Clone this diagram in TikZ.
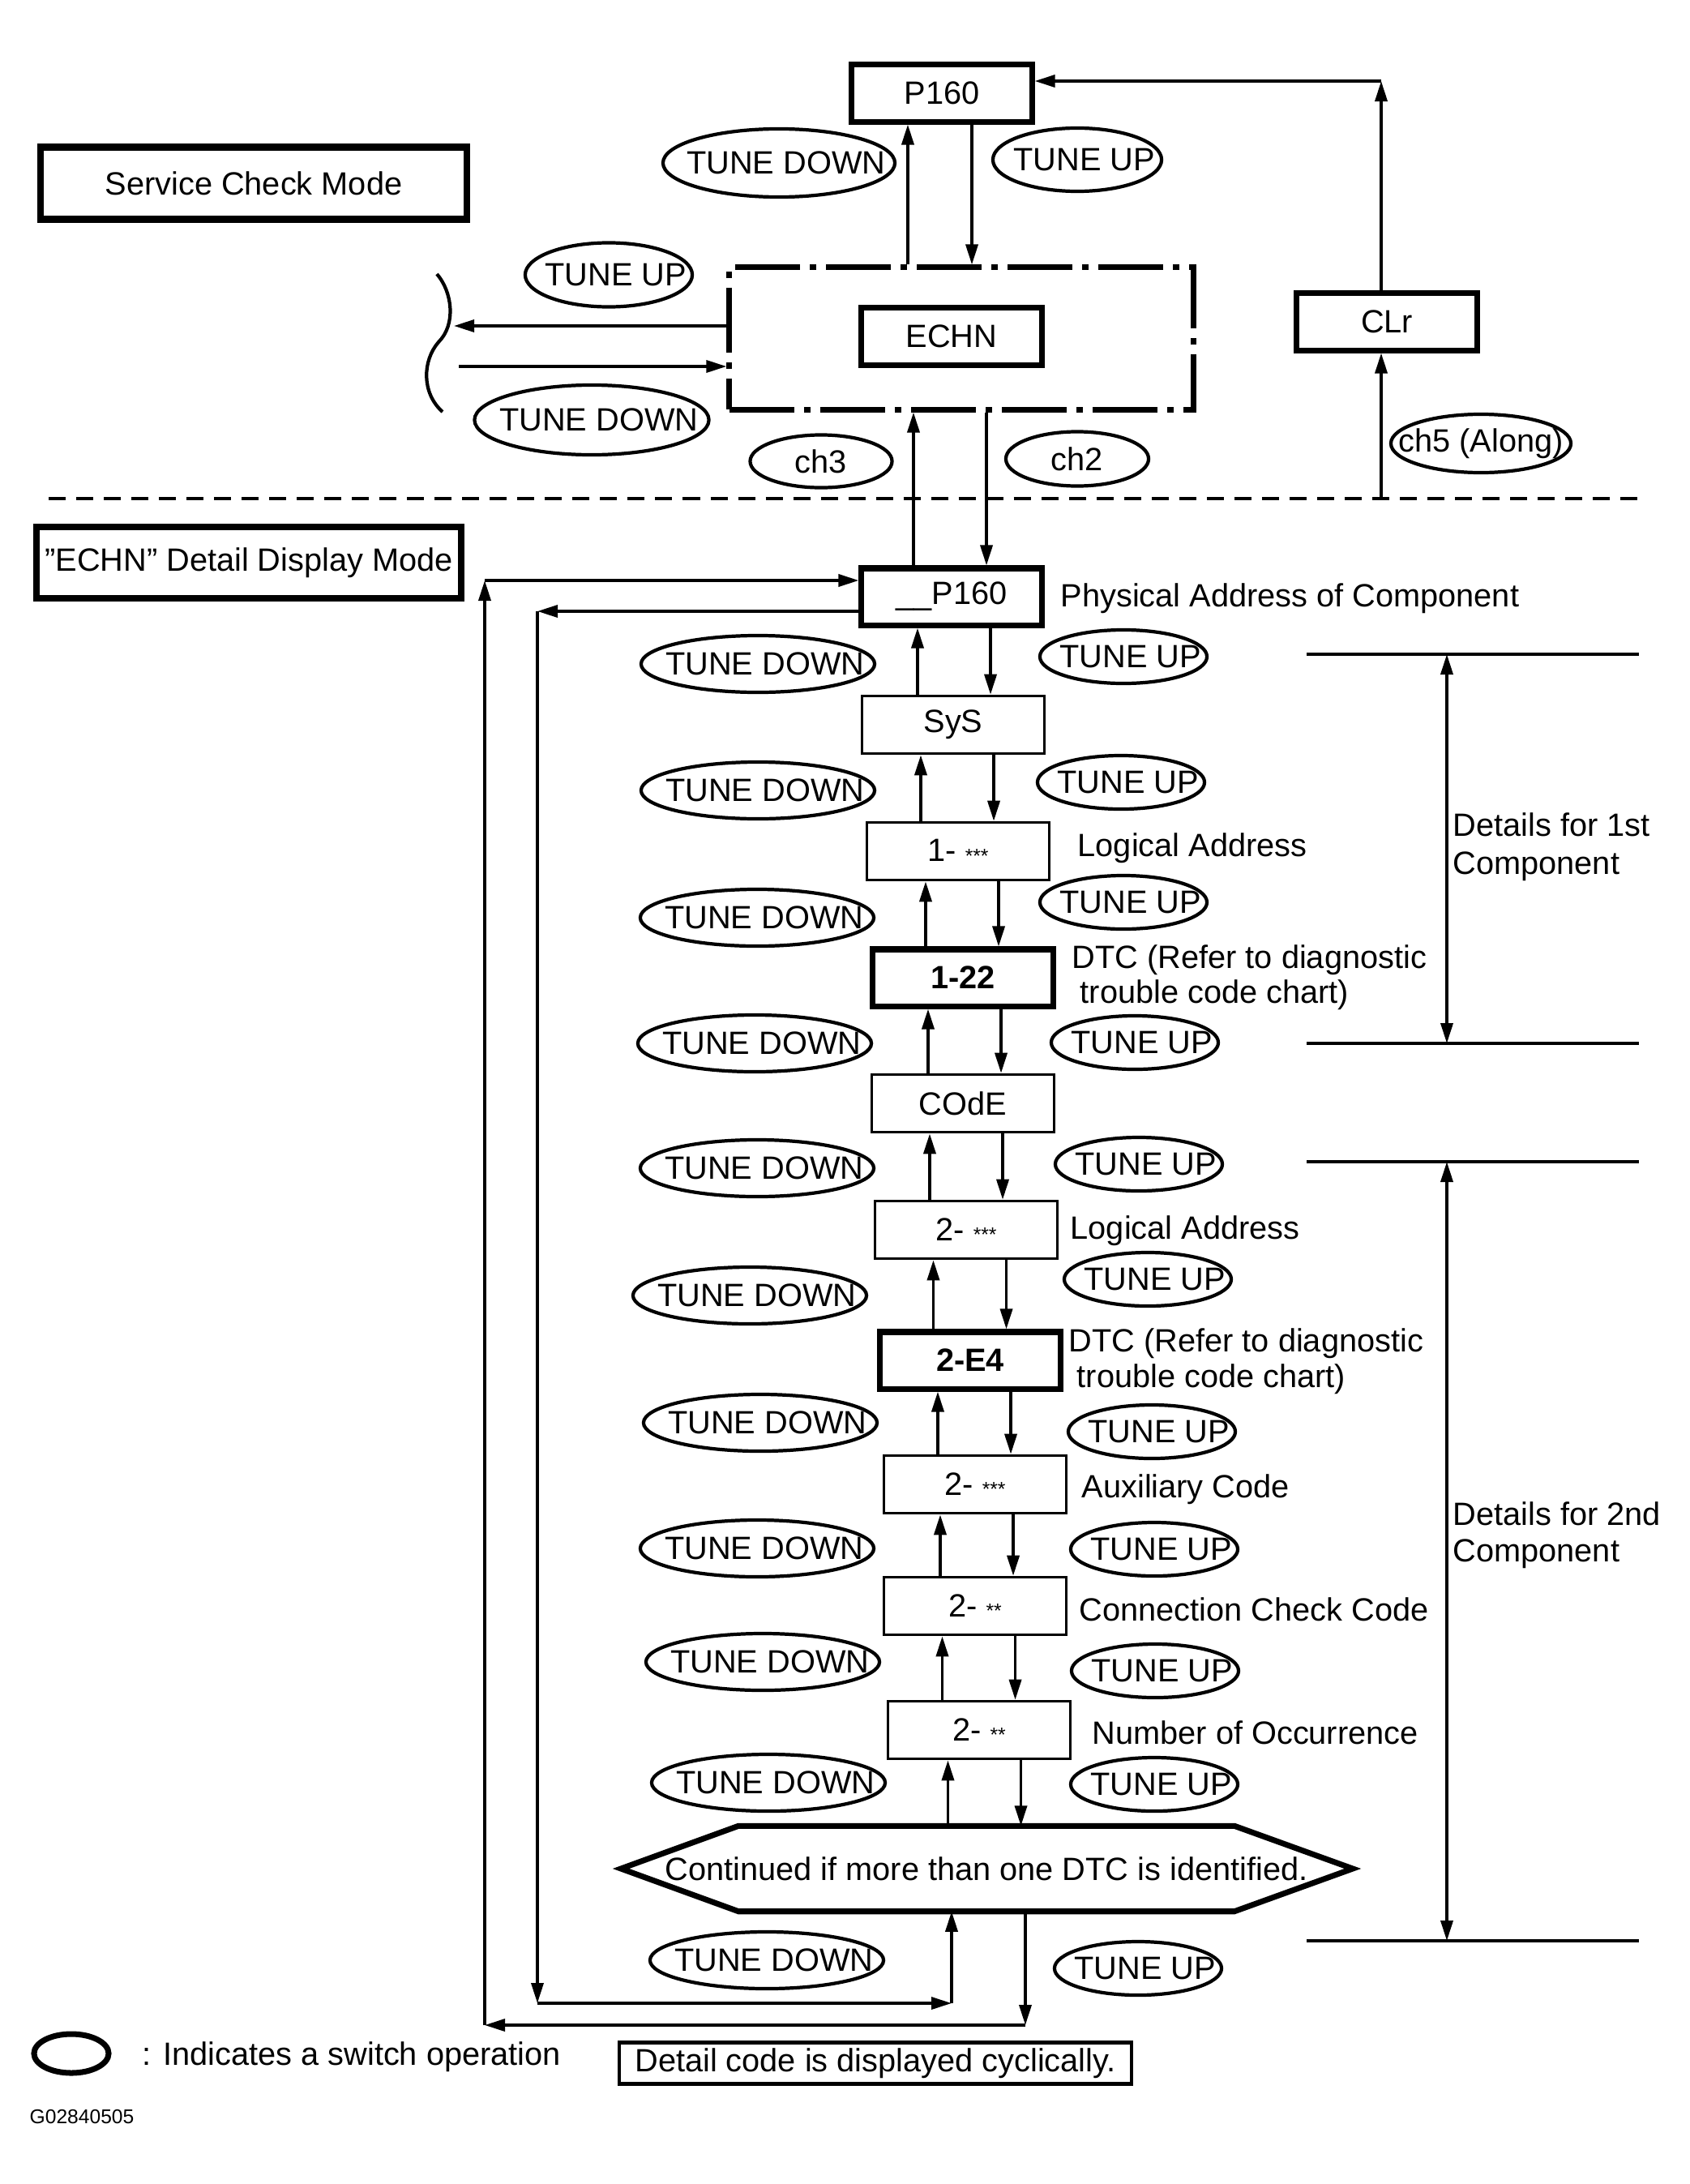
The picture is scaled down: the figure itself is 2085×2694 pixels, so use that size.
\documentclass[tikz,border=0pt]{standalone}
\usepackage{fontspec}
\setmainfont{Liberation Sans}
\usetikzlibrary{shapes.geometric,arrows.meta,calc}

% small asterisks after the component number
\newcommand{\codestars}[1]{\raisebox{-0.5pt}{\fontsize{7}{7}\selectfont #1}}
% text of a switch ellipse, kept out of the ellipse size
\newcommand{\tunetext}[1]{\makebox[0pt]{\hspace{5pt}#1}}

\begin{document}
\begin{tikzpicture}
		% We need to define the drawing style
		[x=0.01cm, y=-0.01cm,
		font=\fontsize{11.3}{13.4}\selectfont,
		box/.style={draw, line width=1pt, minimum width=2.25cm, minimum height=0.71cm, inner sep=0pt},
		boldbox/.style={draw, line width=2pt, minimum width=2.22cm, minimum height=0.70cm, inner sep=0pt},
		modebox/.style={draw, line width=2.4pt, inner sep=0pt},
		tune/.style={draw, ellipse, line width=1.2pt, inner sep=0pt},
		tunedown/.style={tune, minimum width=2.88cm, minimum height=0.70cm},
		tuneup/.style={tune, minimum width=2.06cm, minimum height=0.66cm},
		arr/.style={line width=1pt, -{Triangle[length=0.25cm, width=0.15cm]}},
		dbl/.style={line width=1pt, {Triangle[length=0.25cm, width=0.15cm]}-{Triangle[length=0.25cm, width=0.15cm]}},
		txt/.style={anchor=base west, inner sep=0pt}]

		\useasboundingbox (0,0) rectangle (2085,2694);

		% First the service check mode
		\node[modebox, minimum width=5.26cm, minimum height=0.89cm] (servicemode) at (313,226) {Service Check Mode};
		\node[boldbox] (P160) at (1162,115) {P160};
		\node[draw, line width=2pt, dash pattern=on 0.8cm off 0.12cm on 0.08cm off 0.12cm,
			minimum width=5.72cm, minimum height=1.75cm] (frame) at (1186,417.5) {};
		\node[boldbox] (echn) at (1174,415) {ECHN};
		\node[boldbox] (clr) at (1711,397) {CLr};

		\node[tune, minimum width=2.86cm, minimum height=0.84cm] (topdown) at (961,201) {\tunetext{TUNE DOWN}};
		\node[tune, minimum width=2.08cm, minimum height=0.78cm] (topup) at (1329,197) {\tunetext{TUNE UP}};
		\node[tune, minimum width=2.06cm, minimum height=0.79cm] (leftup) at (751,339) {\tunetext{TUNE UP}};
		\node[tune, minimum width=2.89cm, minimum height=0.86cm] (leftdown) at (730,518) {\tunetext{TUNE DOWN}};
		\node[tune, minimum width=1.75cm, minimum height=0.65cm] (chthree) at (1013,569) {\makebox[0pt]{ch3}};
		\node[tune, minimum width=1.76cm, minimum height=0.67cm] (chtwo) at (1329,566) {\makebox[0pt]{ch2}};
		\node[tune, minimum width=2.22cm, minimum height=0.72cm] (chfive) at (1827,547) {\makebox[0pt]{ch5 (Along)}};

		% P160 and the ECHN frame
		\draw[arr] let \p1=(P160.south), \p2=(frame.north) in (\x1-0.42cm,\y2) -- (\x1-0.42cm,\y1);
		\draw[arr] let \p1=(P160.south), \p2=(frame.north) in (\x1+0.37cm,\y1) -- (\x1+0.37cm,\y2);

		% the bracket on the left
		\coordinate (brkout) at (560,402);
		\coordinate (brkin) at (566,452);
		\draw[line width=1.2pt] (539,338) .. controls (558,360) and (563,400) .. (541,422)
			.. controls (521,445) and (520,485) .. (546,508);
		\draw[arr] (frame.west |- brkout) -- (brkout);
		\draw[arr] (brkin) -- (frame.west |- brkin);

		% CLr goes back to P160
		\coordinate (clrturn) at (1704,100);
		\coordinate (sepfoot) at (1704,615);
		\draw[arr] (clr.north -| clrturn) -- (clrturn);
		\draw[arr] (clrturn) -- (clrturn -| P160.east);
		\draw[arr] (sepfoot) -- (sepfoot |- clr.south);

		% Dashed line between the two modes
		\draw[line width=1pt, dash pattern=on 0.21cm off 0.13cm] (60,615) -- (2024,615);

		% Now the detail display mode
		\node[modebox, minimum width=5.24cm, minimum height=0.88cm] (detailmode) at (307,694) {”ECHN” Detail Display Mode};
		\node[boldbox] (p160d) at (1174,736) {\_\_P160};
		\node[box] (sys) at (1176,894) {SyS};
		\node[box] (la1) at (1182,1050) {1- \codestars{***}};
		\node[boldbox] (dtc1) at (1188,1206) {\bfseries 1-22};
		\node[box] (code) at (1188,1361) {COdE};
		\node[box] (la2) at (1192,1517) {2- \codestars{***}};
		\node[boldbox] (dtc2) at (1197,1678) {\bfseries 2-E4};
		\node[box] (aux) at (1203,1831) {2- \codestars{***}};
		\node[box] (conn) at (1203,1981) {2- \codestars{**}};
		\node[box] (occ) at (1208,2134) {2- \codestars{**}};
		\node[minimum width=6.1cm, minimum height=1.04cm, inner sep=0pt] (hex) at (1217,2305)
			{\makebox[0pt]{Continued if more than one DTC is identified.}};
		\draw[line width=2pt] (hex.north west) -- ($(hex.west)+(-145,0)$) -- (hex.south west)
			-- (hex.south east) -- ($(hex.east)+(146,0)$) -- (hex.north east) -- cycle;

		% frame and first display
		\draw[arr] let \p1=(frame.south), \p2=(p160d.north) in (\x2-0.47cm,\y2) -- (\x2-0.47cm,\y1);
		\draw[arr] let \p1=(frame.south), \p2=(p160d.north) in (\x2+0.43cm,\y1) -- (\x2+0.43cm,\y2);

		% up and down between the displays
		\foreach \a/\b in {p160d/sys, sys/la1, la1/dtc1, dtc1/code, code/la2, la2/dtc2, dtc2/aux, aux/conn, conn/occ, occ/hex} {
			\draw[arr] let \p1=(\a.south), \p2=(\b.north) in
				({0.5*\x1+0.5*\x2-0.43cm},\y2) -- ({0.5*\x1+0.5*\x2-0.43cm},\y1);
			\draw[arr] let \p1=(\a.south), \p2=(\b.north) in
				({0.5*\x1+0.5*\x2+0.47cm},\y1) -- ({0.5*\x1+0.5*\x2+0.47cm},\y2);
		}

		% the switch operations
		\foreach \x/\y [count=\i] in {935/819, 935/975, 934/1132, 931/1287, 934/1441, 925/1598,
			938/1755, 934/1910, 941/2050, 948/2199, 946/2418}
			\node[tunedown] (down\i) at (\x,\y) {\tunetext{TUNE DOWN}};
		\foreach \x/\y [count=\i] in {1386/810, 1383/965, 1386/1113, 1400/1286, 1405/1436, 1416/1578,
			1421/1766, 1424/1911, 1425/2061, 1424/2201, 1404/2428}
			\node[tuneup] (up\i) at (\x,\y) {\tunetext{TUNE UP}};

		% Explanations next to the displays
		\node[txt] (physaddr) at (1308,748) {Physical Address of Component};
		\node[txt] (logaddra) at (1329,1056) {Logical Address};
		\node[txt] (dtcnotea) at (1322,1194) {DTC (Refer to diagnostic};
		\node[txt] (dtcnoteb) at (1332,1237) {trouble code chart)};
		\node[txt] (logaddrb) at (1320,1528) {Logical Address};
		\node[txt] (dtcnotec) at (1318,1667) {DTC (Refer to diagnostic};
		\node[txt] (dtcnoted) at (1328,1711) {trouble code chart)};
		\node[txt] (auxnote) at (1334,1847) {Auxiliary Code};
		\node[txt] (connnote) at (1331,1999) {Connection Check Code};
		\node[txt] (occnote) at (1347,2151) {Number of Occurrence};

		% ranges of the two components
		\coordinate (firsttop) at (1785,807);
		\coordinate (firstbot) at (1785,1287);
		\coordinate (secondtop) at (1785,1433);
		\coordinate (secondbot) at (1785,2394);
		\draw[line width=0.9pt] (1612,807) -- (2022,807);
		\draw[line width=0.9pt] (1612,1287) -- (2022,1287);
		\draw[line width=0.9pt] (1612,1433) -- (2022,1433);
		\draw[line width=0.9pt] (1612,2394) -- (2022,2394);
		\draw[dbl] (firsttop) -- (firstbot);
		\draw[dbl] (secondtop) -- (secondbot);
		\node[txt] (firsta) at (1792,1031) {Details for 1st};
		\node[txt] (firstb) at (1792,1078) {Component};
		\node[txt] (seconda) at (1792,1881) {Details for 2nd};
		\node[txt] (secondb) at (1792,1926) {Component};

		% the two loops round the left
		\coordinate (outerturn) at (598,716);
		\coordinate (outerfoot) at (598,2498);
		\coordinate (innerturn) at (663,754);
		\coordinate (innerfoot) at (663,2471);
		\coordinate (hexdown) at (1265,2498);
		\coordinate (hexup) at (1174,2471);
		\draw[arr] (hex.south -| hexdown) -- (hexdown);
		\draw[arr] (hexdown) -- (outerfoot);
		\draw[arr] (outerfoot) -- (outerturn);
		\draw[arr] (outerturn) -- (outerturn -| p160d.west);
		\draw[arr] (innerturn -| p160d.west) -- (innerturn);
		\draw[arr] (innerturn) -- (innerfoot);
		\draw[arr] (innerfoot) -- (hexup);
		\draw[arr] (hexup) -- (hexup |- hex.south);

		% Finally the legend
		\node[tune, line width=2pt, minimum width=0.92cm, minimum height=0.48cm] (legend) at (88,2533) {};
		\node[txt] (legendtxt) at (175,2547) {: Indicates a switch operation};
		\node[draw, line width=1.3pt, minimum width=6.32cm, minimum height=0.51cm, inner sep=0pt] (cyclic) at (1080,2545)
			{Detail code is displayed cyclically.};
		\node[txt, font=\fontsize{7}{8}\selectfont] (figid) at (36,2619) {G02840505};
	\end{tikzpicture}
\end{document}
